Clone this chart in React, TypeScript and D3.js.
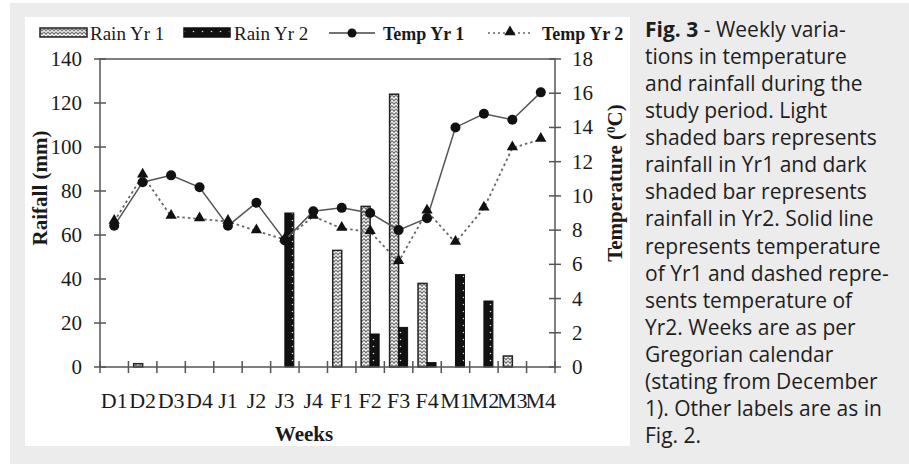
import React from 'react';
import { scaleBand, scaleLinear, line, symbol, symbolTriangle } from 'd3';

const weeks = ['D1', 'D2', 'D3', 'D4', 'J1', 'J2', 'J3', 'J4', 'F1', 'F2', 'F3', 'F4', 'M1', 'M2', 'M3', 'M4'];
const rainYr1 = [0, 1.5, 0, 0, 0, 0, 0, 0, 53, 73, 124, 38, 0, 0, 5, 0];
const rainYr2 = [0, 0, 0, 0, 0, 0, 70, 0, 0, 15, 18, 2, 42, 30, 0, 0];
const tempYr1 = [8.25, 10.8, 11.2, 10.5, 8.25, 9.6, 7.4, 9.1, 9.3, 9.0, 8.0, 8.7, 14.0, 14.8, 14.45, 16.05];
const tempYr2 = [8.5, 11.2, 8.8, 8.65, 8.5, 7.95, 7.45, 8.8, 8.1, 7.9, 6.15, 9.1, 7.27, 9.28, 12.8, 13.3];
const rainTicks = [0, 20, 40, 60, 80, 100, 120, 140];
const tempTicks = [0, 2, 4, 6, 8, 10, 12, 14, 16, 18];

const captionLines = [
  'tions in temperature',
  'and rainfall during the',
  'study period. Light',
  'shaded bars represents',
  'rainfall in Yr1 and dark',
  'shaded bar represents',
  'rainfall in Yr2. Solid line',
  'represents temperature',
  'of Yr1 and dashed repre-',
  'sents temperature of',
  'Yr2. Weeks are as per',
  'Gregorian calendar',
  '(stating from December',
  '1). Other labels are as in',
  'Fig. 2.',
];

const serif = '"Liberation Serif", "Times New Roman", serif';

export default function App() {
  const left = 100, right = 555, top = 59, bottom = 367;
  const x = scaleBand<string>().domain(weeks).range([left, right]);
  const yRain = scaleLinear().domain([0, 140]).range([bottom, top]);
  const yTemp = scaleLinear().domain([0, 18]).range([bottom, top]);
  const barW = 9;
  const cx = (w: string) => (x(w) ?? 0) + x.bandwidth() / 2;

  const line1 = line<number>().x((_, i) => cx(weeks[i])).y((d) => yTemp(d));
  const tri = symbol().type(symbolTriangle).size(55)() || '';

  const tickFont = { fontFamily: serif, fontSize: 21, fill: '#1a1a1a' };

  return (
    <svg width={909} height={465} style={{ position: 'absolute', left: 0, top: 0 }}>
      <defs>
        <pattern id="hatch" width="4" height="3.5" patternUnits="userSpaceOnUse">
          <rect width="4" height="3.5" fill="#fff" />
          <path d="M0,0.5 L2,2.8 L4,0.5" fill="none" stroke="#555" strokeWidth="1.1" />
        </pattern>
        <pattern id="dots" width="9" height="7" patternUnits="userSpaceOnUse" x="0" y="0">
          <rect width="9" height="7" fill="#111" />
          <circle cx="4.5" cy="3.5" r="0.8" fill="#ddd" />
        </pattern>
      </defs>
      <rect x={0} y={0} width={909} height={465} fill="#fff" />
      <rect x={10} y={3} width={899} height={461} fill="#ececec" />
      <rect x={25} y={17} width={605} height={429} fill="#fff" />

      {/* legend */}
      <g>
        <rect x={40} y={28} width={47} height={9} fill="url(#hatch)" stroke="#222" strokeWidth={1.5} />
        <text x={90} y={40} fontFamily={serif} fontSize={19} fill="#1a1a1a">Rain Yr 1</text>
        <rect x={184} y={28} width={46} height={9} fill="url(#dots)" stroke="#111" strokeWidth={1.5} />
        <text x={234} y={40} fontFamily={serif} fontSize={19} fill="#1a1a1a">Rain Yr 2</text>
        <line x1={329} x2={375} y1={33} y2={33} stroke="#444" strokeWidth={1.5} />
        <circle cx={352} cy={33} r={4.5} fill="#111" />
        <text x={383} y={40} fontFamily={serif} fontSize={18} fontWeight="bold" fill="#1a1a1a">Temp Yr 1</text>
        <line x1={488} x2={532} y1={33} y2={33} stroke="#666" strokeWidth={1.5} strokeDasharray="2,3" />
        <path d={tri} transform="translate(510,32)" fill="#111" />
        <text x={542} y={40} fontFamily={serif} fontSize={18} fontWeight="bold" fill="#1a1a1a">Temp Yr 2</text>
      </g>

      {/* bars */}
      {weeks.map((w, i) => (
        <g key={w}>
          {rainYr1[i] > 0 && (
            <rect x={cx(w) - barW} y={yRain(rainYr1[i])} width={barW} height={bottom - yRain(rainYr1[i])}
              fill="url(#hatch)" stroke="#222" strokeWidth={1.5} />
          )}
          {rainYr2[i] > 0 && (
            <rect x={cx(w)} y={yRain(rainYr2[i])} width={barW} height={bottom - yRain(rainYr2[i])}
              fill="url(#dots)" stroke="#111" strokeWidth={1} />
          )}
        </g>
      ))}

      {/* frame and axes */}
      <rect x={left} y={top} width={right - left} height={bottom - top} fill="none" stroke="#555" strokeWidth={1.5} />
      {rainTicks.map((t) => (
        <g key={'r' + t}>
          <line x1={left - 6} x2={left + 6} y1={yRain(t)} y2={yRain(t)} stroke="#555" strokeWidth={1.5} />
          <text x={82} y={yRain(t) + 7} textAnchor="end" {...tickFont}>{t}</text>
        </g>
      ))}
      {tempTicks.map((t) => (
        <g key={'t' + t}>
          <line x1={right - 6} x2={right + 6} y1={yTemp(t)} y2={yTemp(t)} stroke="#555" strokeWidth={1.5} />
          <text x={572} y={yTemp(t) + 7} textAnchor="start" {...tickFont}>{t}</text>
        </g>
      ))}
      {weeks.map((w) => (
        <line key={'xt' + w} x1={(x(w) ?? 0) + x.bandwidth()} x2={(x(w) ?? 0) + x.bandwidth()}
          y1={bottom - 6} y2={bottom + 6} stroke="#555" strokeWidth={1.5} />
      ))}
      <line x1={left} x2={left} y1={bottom - 6} y2={bottom + 6} stroke="#555" strokeWidth={1.5} />
      {weeks.map((w) => (
        <text key={'xl' + w} x={cx(w)} y={408} textAnchor="middle" {...tickFont} fontSize={22}>{w}</text>
      ))}

      {/* axis titles */}
      <text x={304} y={441} textAnchor="middle" fontFamily={serif} fontSize={21} fontWeight="bold" fill="#1a1a1a">Weeks</text>
      <text transform="translate(47,188) rotate(-90)" textAnchor="middle" fontFamily={serif} fontSize={21}
        fontWeight="bold" fill="#1a1a1a">Raifall (mm)</text>
      <text transform="translate(622,183) rotate(-90)" textAnchor="middle" fontFamily={serif} fontSize={21}
        fontWeight="bold" fill="#1a1a1a">
        Temperature (<tspan dy={-7} fontSize={13}>0</tspan><tspan dy={7}>C)</tspan>
      </text>

      {/* temperature lines */}
      <path d={line1(tempYr2) || ''} fill="none" stroke="#666" strokeWidth={1.8} strokeDasharray="2.5,3" />
      <path d={line1(tempYr1) || ''} fill="none" stroke="#555" strokeWidth={1.5} />
      {tempYr2.map((t, i) => (
        <path key={'tr' + i} d={tri} transform={`translate(${cx(weeks[i])},${yTemp(t) - 1})`} fill="#111" />
      ))}
      {tempYr1.map((t, i) => (
        <circle key={'c' + i} cx={cx(weeks[i])} cy={yTemp(t)} r={5} fill="#111" />
      ))}

      {/* caption */}
      <g fontFamily="'Open Sans', Lato, sans-serif" fontSize={21} fill="#1e1e1e">
        <text x={645} y={37}>
          <tspan fontWeight="bold">Fig. 3</tspan> - Weekly varia-
        </text>
        {captionLines.map((s, i) => (
          <text key={'cap' + i} x={645} y={37 + (i + 1) * 27.07}>{s}</text>
        ))}
      </g>
    </svg>
  );
}
